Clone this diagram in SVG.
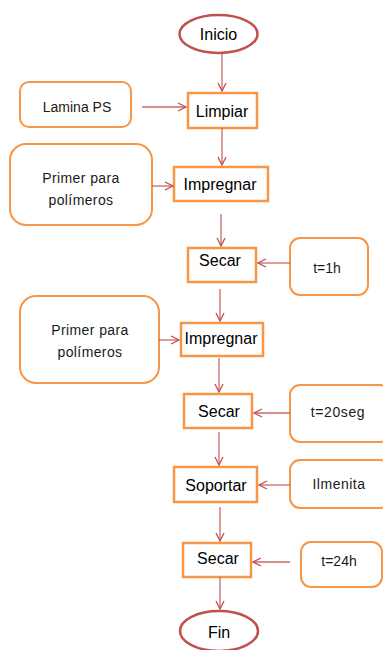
<svg xmlns="http://www.w3.org/2000/svg" width="383" height="650" viewBox="0 0 383 650">
<defs>
<marker id="arr" viewBox="0 0 10 10" refX="9" refY="5" markerWidth="10" markerHeight="10" markerUnits="userSpaceOnUse" orient="auto">
<path d="M1,1 L9,5 L1,9" fill="none" stroke="#c0504d" stroke-width="1.3"/>
</marker>
<style>
.term{fill:#fff;stroke:#c0504d;stroke-width:2.5}
.proc{fill:#fff;stroke:#f79646;stroke-width:2.5}
.inp{fill:#fff;stroke:#f79646;stroke-width:2}
.big{font-family:"Liberation Sans",Arial,sans-serif;font-size:16px;fill:#000;text-anchor:middle}
.sm{font-family:"Liberation Sans",Arial,sans-serif;font-size:14px;fill:#1a1a1a;text-anchor:middle}
.conn line{stroke:#c0504d;stroke-width:1.3;stroke-opacity:0.85;marker-end:url(#arr)}
</style>
</defs>
<rect width="383" height="650" fill="#fff"/>
<g id="inicio"><ellipse class="term" cx="218.5" cy="34" rx="39" ry="19"/><text class="big" x="218.5" y="40">Inicio</text></g>
<g id="limpiar"><rect class="proc" x="188" y="93" width="69" height="35"/><text class="big" x="222" y="117">Limpiar</text></g>
<g id="lamina"><rect class="inp" x="20" y="82" width="111" height="45" rx="9"/><text class="sm" x="77" y="112">Lamina PS</text></g>
<g id="impregnar1"><rect class="proc" x="174" y="167" width="94" height="34"/><text class="big" x="220" y="190">Impregnar</text></g>
<g id="primer1"><rect class="inp" x="10" y="144" width="142" height="81" rx="16"/><text class="sm" x="81" y="183" letter-spacing="0.4">Primer para</text><text class="sm" x="81" y="205" letter-spacing="0.4">polímeros</text></g>
<g id="secar1"><rect class="proc" x="188" y="248" width="68" height="34"/><text class="big" x="220" y="266">Secar</text></g>
<g id="t1h"><rect class="inp" x="290" y="238" width="78" height="57" rx="10"/><text class="sm" x="327" y="273">t=1h</text></g>
<g id="impregnar2"><rect class="proc" x="181" y="323" width="82" height="33"/><text class="big" x="221" y="344">Impregnar</text></g>
<g id="primer2"><rect class="inp" x="20" y="296" width="139" height="87" rx="16"/><text class="sm" x="90" y="335" letter-spacing="0.4">Primer para</text><text class="sm" x="90" y="357" letter-spacing="0.4">polímeros</text></g>
<g id="secar2"><rect class="proc" x="184" y="394" width="68" height="34"/><text class="big" x="219" y="417">Secar</text></g>
<g id="t20seg"><rect class="inp" x="290" y="385" width="100" height="57" rx="10"/><text class="sm" x="338" y="417" letter-spacing="0.6">t=20seg</text></g>
<g id="soportar"><rect class="proc" x="174" y="467" width="83" height="35"/><text class="big" x="216" y="491">Soportar</text></g>
<g id="ilmenita"><rect class="inp" x="290" y="460" width="100" height="48" rx="10"/><text class="sm" x="339" y="489" letter-spacing="0.5">Ilmenita</text></g>
<g id="secar3"><rect class="proc" x="183" y="543" width="68" height="34"/><text class="big" x="218" y="564">Secar</text></g>
<g id="t24h"><rect class="inp" x="301" y="542" width="81" height="45" rx="10"/><text class="sm" x="339" y="566" font-size="15">t=24h</text></g>
<g id="fin"><ellipse class="term" cx="219" cy="631" rx="39" ry="20"/><text class="big" x="219" y="638">Fin</text></g>
<g id="connectors" class="conn">
<line x1="222" y1="53" x2="222" y2="91"/>
<line x1="142" y1="107" x2="186" y2="107"/>
<line x1="222" y1="128" x2="222" y2="165"/>
<line x1="152" y1="186" x2="173" y2="186"/>
<line x1="221" y1="214" x2="221" y2="246"/>
<line x1="290" y1="263" x2="258" y2="263"/>
<line x1="220" y1="289" x2="220" y2="321"/>
<line x1="159" y1="340" x2="179" y2="340"/>
<line x1="219" y1="358" x2="219" y2="392"/>
<line x1="290" y1="413" x2="254" y2="413"/>
<line x1="219" y1="432" x2="219" y2="465"/>
<line x1="290" y1="485" x2="259" y2="485"/>
<line x1="220" y1="507" x2="220" y2="541"/>
<line x1="290" y1="562" x2="253" y2="562"/>
<line x1="220" y1="577" x2="220" y2="609"/>
</g>
</svg>
